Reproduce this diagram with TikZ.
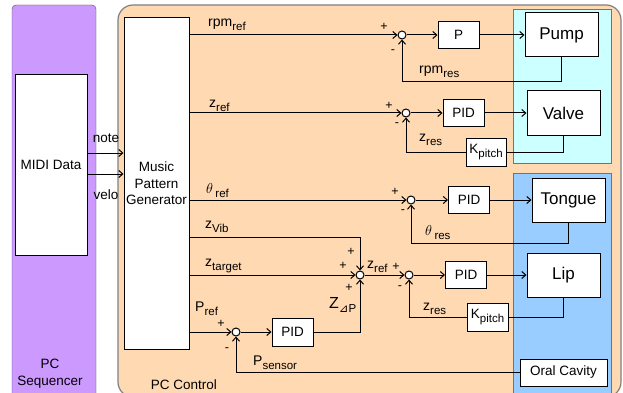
\documentclass[tikz,border=0pt]{standalone}
\usepackage{fontspec}
\setmainfont{Liberation Sans}
\newfontfamily\symfont{DejaVu Sans}
\usetikzlibrary{arrows.meta}

\definecolor{seqpurple}{RGB}{204,153,255}
\definecolor{ctrlpeach}{RGB}{255,217,178}
\definecolor{plantcyan}{RGB}{204,255,255}
\definecolor{plantblue}{RGB}{153,204,255}

\newcommand\lowtxt[1]{\raisebox{-4pt}{\fontsize{11.5}{12}\selectfont #1}}

\tikzset{
  blk/.style={draw, fill=white, line width=1pt, inner sep=0pt,
    font=\fontsize{13.5}{16.5}\selectfont},
  plant/.style={blk, minimum width=73pt, minimum height=44pt,
    font=\fontsize{17}{19}\selectfont},
  ctrl/.style={blk, minimum width=41pt, minimum height=27pt},
  sumpt/.style={circle, draw, fill=white, line width=1pt, inner sep=0pt,
    minimum size=8pt},
  sig/.style={-{Straight Barb[length=4pt,width=7pt]}, line width=1pt},
  wire/.style={line width=1pt},
  lbl/.style={anchor=base west, inner sep=0pt,
    font=\fontsize{14}{15}\selectfont},
  sgn/.style={inner sep=0pt, font=\fontsize{12.5}{13}\selectfont},
}

\begin{document}
\begin{tikzpicture}[x=1pt, y=-1pt]
  \useasboundingbox (0,0) rectangle (623,393);

  % panels
  \draw[fill=seqpurple, draw=black!70, rounded corners=4pt] (12,5) rectangle (96,402);
  \draw[fill=ctrlpeach, draw=black!50, line width=1.2pt, rounded corners=15pt] (118,5) rectangle (621,397);
  \draw[fill=plantcyan, draw=black!55] (513,9) rectangle (611,163);
  \draw[fill=plantblue, draw=black!55] (513,173) rectangle (611,402);

  \node[align=center, font=\fontsize{13.5}{17}\selectfont] (seq) at (50,374) {PC\\Sequencer};
  \node[font=\fontsize{13.5}{15}\selectfont] (ctl) at (184,385) {PC Control};

  % blocks
  \node[blk, minimum width=72pt, minimum height=180pt] (midi) at (51,165) {MIDI Data};
  \node[blk, minimum width=65pt, minimum height=331pt, align=center] (mpg) at (156.5,183.5) {Music\\Pattern\\Generator};

  \node[plant] (pump) at (561.5,35) {Pump};
  \node[plant] (valve) at (563.5,113) {Valve};
  \node[plant] (tongue) at (568.5,200) {Tongue};
  \node[plant] (lip) at (563.5,275) {Lip};
  \node[blk, minimum width=87pt, minimum height=27pt] (oral) at (563.5,372.5) {Oral Cavity};

  \node[ctrl] (prpm) at (458.5,35) {P};
  \node[ctrl] (pidv) at (463.5,113) {PID};
  \node[ctrl, minimum width=40pt, minimum height=28pt] (kv) at (486,152) {K\lowtxt{pitch}};
  \node[ctrl] (pidt) at (469,200) {PID};
  \node[ctrl] (pidl) at (466,275) {PID};
  \node[ctrl, minimum height=28pt] (kl) at (487.5,317) {K\lowtxt{pitch}};
  \node[ctrl, minimum height=28pt] (pidp) at (292.5,332) {PID};

  \node[sumpt] (s1) at (402,35) {};
  \node[sumpt] (s2) at (406,113) {};
  \node[sumpt] (s3) at (411,200) {};
  \node[sumpt] (s4) at (360,275) {};
  \node[sumpt] (s5) at (409,275) {};
  \node[sumpt] (s6) at (236,332) {};

  % midi -> generator
  \draw[sig] (midi.east |- 0,153) -- (mpg.west |- 0,153);
  \draw[sig] (midi.east |- 0,174) -- (mpg.west |- 0,174);
  \node[font=\fontsize{13.5}{15}\selectfont] (nt) at (106,138) {note};
  \node[font=\fontsize{13.5}{15}\selectfont] (vl) at (106,195) {velo};

  % pump loop
  \draw[sig] (mpg.east |- s1) -- (s1);
  \draw[sig] (s1) -- (prpm);
  \draw[sig] (prpm) -- (pump);
  \draw[sig] (pump.south) -- ++(0,24) -| (s1);

  % valve loop
  \draw[sig] (mpg.east |- s2) -- (s2);
  \draw[sig] (s2) -- (pidv);
  \draw[sig] (pidv) -- (valve);
  \draw[wire] (valve.south) |- (kv.east);
  \draw[sig] (kv.west) -| (s2);

  % tongue loop
  \draw[sig] (mpg.east |- s3) -- (s3);
  \draw[sig] (s3) -- (pidt);
  \draw[sig] (pidt) -- (tongue);
  \draw[sig] (tongue.south) -- ++(0,21) -| (s3);

  % lip loop
  \draw[sig] (mpg.east |- 0,237) -| (s4);
  \draw[sig] (mpg.east |- s4) -- (s4);
  \draw[sig] (s4) -- (s5);
  \draw[sig] (s5) -- (pidl);
  \draw[sig] (pidl) -- (lip);
  \draw[wire] (lip.south) |- (kl.east);
  \draw[sig] (kl.west) -| (s5);

  % pressure loop
  \draw[sig] (mpg.east |- s6) -- (s6);
  \draw[sig] (s6) -- (pidp);
  \draw[sig] (pidp.east) -| (s4);
  \draw[sig] (oral.west) -| (s6);

  % signal labels
  \node[lbl] at (208,27) {rpm\lowtxt{ref}};
  \node[lbl] at (419,74) {rpm\lowtxt{res}};
  \node[lbl] at (209,107) {z\lowtxt{ref}};
  \node[lbl] at (419,141) {z\lowtxt{res}};
  \node[lbl] at (206,193) {$\theta$\,\lowtxt{ref}};
  \node[lbl] at (425,235) {$\theta$\,\lowtxt{res}};
  \node[lbl] at (205,228) {z\lowtxt{Vib}};
  \node[lbl] at (205,266) {z\lowtxt{target}};
  \node[lbl] at (367,268) {z\lowtxt{ref}};
  \node[lbl] at (423,310) {z\lowtxt{res}};
  \node[lbl] at (195,311) {P\lowtxt{ref}};
  \node[lbl] at (329,308) {{\fontsize{16}{18}\selectfont Z}\lowtxt{{\symfont\char"22BF}P}};
  \node[lbl] at (253,365) {P\lowtxt{sensor}};

  % signs
  \node[sgn] at (384,27) {+};
  \node[sgn] at (393,52) {-};
  \node[sgn] at (389,106) {+};
  \node[sgn] at (397,125) {-};
  \node[sgn] at (395,192) {+};
  \node[sgn] at (403,212) {-};
  \node[sgn] at (351,252) {+};
  \node[sgn] at (343,266) {+};
  \node[sgn] at (349,288) {+};
  \node[sgn] at (396,267) {+};
  \node[sgn] at (400,288) {-};
  \node[sgn] at (221,324) {+};
  \node[sgn] at (227,350) {-};
\end{tikzpicture}
\end{document}
